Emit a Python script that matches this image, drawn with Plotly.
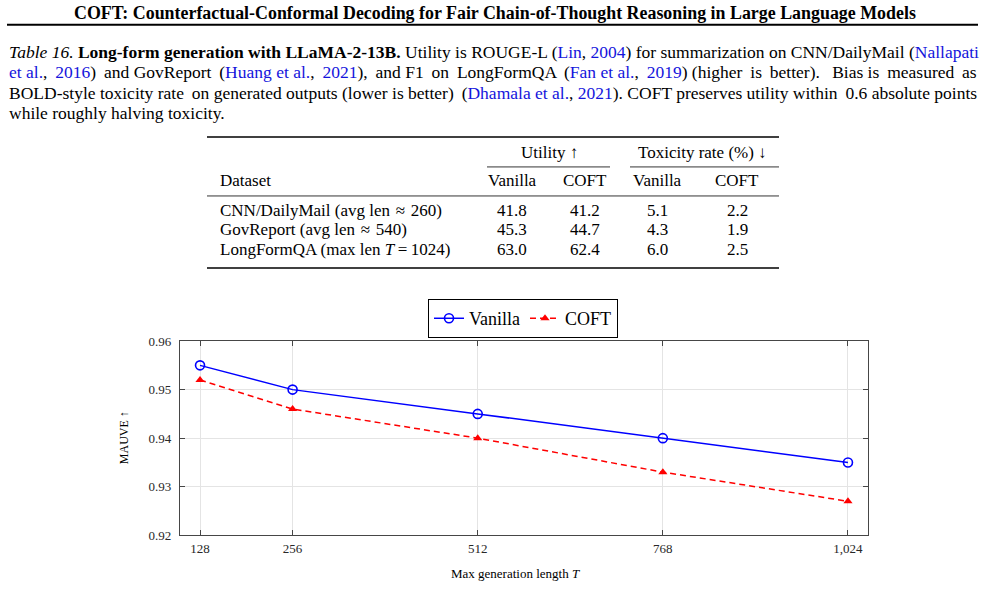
import plotly.graph_objects as go

# ---------------- data ----------------
lengths = [128, 256, 512, 768, 1024]
length_labels = ["128", "256", "512", "768", "1,024"]
mauve_vanilla = [0.955, 0.950, 0.945, 0.940, 0.935]
mauve_coft = [0.952, 0.946, 0.940, 0.933, 0.927]
y_ticks = [0.92, 0.93, 0.94, 0.95, 0.96]

datasets = ["CNN/DailyMail (avg len\u2004\u2248\u2004260)",
            "GovReport (avg len\u2004\u2248\u2004540)",
            "LongFormQA (max len <i>T</i>\u2009=\u20091024)"]
util_vanilla = ["41.8", "45.3", "63.0"]
util_coft = ["41.2", "44.7", "62.4"]
tox_vanilla = ["5.1", "4.3", "6.0"]
tox_coft = ["2.2", "1.9", "2.5"]

W, H = 985, 603
# the page photograph maps figure pixel y to about 0.9743*y + 7.2 (observed)
SCALE_Y, OFF_Y = 0.9743, 7.2
SERIF = "Liberation Serif"
BLUE_LINK = "rgb(20,20,220)"


def X(px):
    return px / W


def Y(py):
    return 1 - ((py - OFF_Y) / SCALE_Y) / H


def link(t):
    return f"<span style='color:{BLUE_LINK}'>{t}</span>"


def justify(tokens, n_extra):
    gaps = len(tokens) - 1
    chosen = {int((i + 0.5) * gaps / n_extra) for i in range(n_extra)} if n_extra else set()
    out = tokens[0]
    for g, tok in enumerate(tokens[1:]):
        out += " " + ("\u2009" if g in chosen else "") + tok
    return out


fig = go.Figure()

fig.add_trace(go.Scatter(
    x=lengths, y=mauve_vanilla, name="Vanilla", mode="lines+markers",
    line=dict(color="rgb(0,0,255)", width=1.5),
    marker=dict(symbol="circle-open", size=9, color="rgb(0,0,255)", line=dict(width=1.6)),
))
fig.add_trace(go.Scatter(
    x=lengths, y=mauve_coft, name="COFT", mode="lines+markers",
    line=dict(color="rgb(255,0,0)", width=1.5, dash="6px,4px"),
    marker=dict(symbol="triangle-up", size=8, color="rgb(255,0,0)"),
))

ann = []


def text(px, py, s, size=16, xanchor="center", color="black", angle=0):
    ann.append(dict(x=X(px), y=Y(py), xref="paper", yref="paper", text=s,
                    showarrow=False, xanchor=xanchor, yanchor="middle",
                    textangle=angle,
                    font=dict(family=SERIF, size=size, color=color)))


# header
text(495, 13, "<b>COFT: Counterfactual-Conformal Decoding for Fair Chain-of-Thought Reasoning in Large Language Models</b>", size=17.9)

# caption
line1 = ("<i>Table 16.</i> <b>Long-form generation with LLaMA-2-13B.</b> Utility is ROUGE-L (" + link("Lin") + ", "
         + link("2004") + ") for summarization on CNN/DailyMail (" + link("Nallapati"))
line2 = justify([link("et al.") + ",", link("2016") + ")", "and", "GovReport", "(" + link("Huang et al.") + ",",
                 link("2021") + "),", "and", "F1", "on", "LongFormQA", "(" + link("Fan et al.") + ",",
                 link("2019") + ")", "(higher", "is", "better).", " Bias", "is", "measured", "as"], 14)
line3 = justify(["BOLD-style", "toxicity", "rate", "on", "generated", "outputs", "(lower", "is", "better)",
                 "(" + link("Dhamala et al.") + ",", link("2021") + ").", "COFT", "preserves", "utility",
                 "within", "0.6", "absolute", "points"], 3)
line4 = "while roughly halving toxicity."
for i, line in enumerate([line1, line2, line3, line4]):
    text(7, 52 + i * 20.5, line, size=17.5, xanchor="left")

# table
TS = 17
col_x = [512, 585, 657, 737]
text(549, 153, "Utility \u2191", size=TS)
text(702, 153, "Toxicity rate (%) \u2193", size=TS)
text(218, 181, "Dataset", size=TS, xanchor="left")
for cx, h in zip(col_x, ["Vanilla", "COFT", "Vanilla", "COFT"]):
    text(cx, 181, h, size=TS)
row_y = [211, 230, 249]
for ry, d, a, b, c, e in zip(row_y, datasets, util_vanilla, util_coft, tox_vanilla, tox_coft):
    text(218, ry, d, size=TS, xanchor="left")
    for cx, v in zip(col_x, [a, b, c, e]):
        text(cx, ry, v, size=TS)

# axis titles
text(515, 573, "Max generation length <i>T</i>", size=13)
text(124, 438, "MAUVE \u2191", size=12, angle=-90)

shapes = []


def hline(x0, x1, py, w):
    shapes.append(dict(type="line", xref="paper", yref="paper", x0=X(x0), x1=X(x1),
                       y0=Y(py), y1=Y(py), line=dict(color="black", width=w)))


hline(7, 978, 25, 2)
hline(207, 779, 137, 1.5)
hline(487, 610, 167, 0.8)
hline(630, 779, 167, 0.8)
hline(207, 779, 196, 0.8)
hline(207, 779, 268, 1.5)

axis_common = dict(
    showline=True, linecolor="rgb(70,70,70)", linewidth=1.2, mirror="ticks",
    ticks="inside", ticklen=5, tickcolor="rgb(70,70,70)", tickwidth=1,
    showgrid=True, gridcolor="rgb(228,228,228)", gridwidth=1, zeroline=False,
    tickfont=dict(family=SERIF, size=13, color="rgb(40,40,40)"),
)

fig.update_layout(
    width=W, height=H, margin=dict(l=0, r=0, t=0, b=0),
    paper_bgcolor="white", plot_bgcolor="white",
    xaxis=dict(domain=[X(180), X(868)], range=[100.3, 1051.7], ticklabelstandoff=1,
               tickmode="array", tickvals=lengths, ticktext=length_labels, **axis_common),
    yaxis=dict(domain=[Y(535), Y(341)], range=[0.92, 0.96], ticklabelstandoff=5,
               tickmode="array", tickvals=y_ticks, ticktext=[f"{v:.2f}" for v in y_ticks], **axis_common),
    legend=dict(orientation="h", x=X(523), xanchor="center", y=Y(338), yanchor="bottom",
                bordercolor="black", borderwidth=1, bgcolor="white",
                font=dict(family=SERIF, size=18, color="black"),
                itemwidth=30, tracegroupgap=0),
    annotations=ann, shapes=shapes, showlegend=True,
)

fig.write_html("out.html")
